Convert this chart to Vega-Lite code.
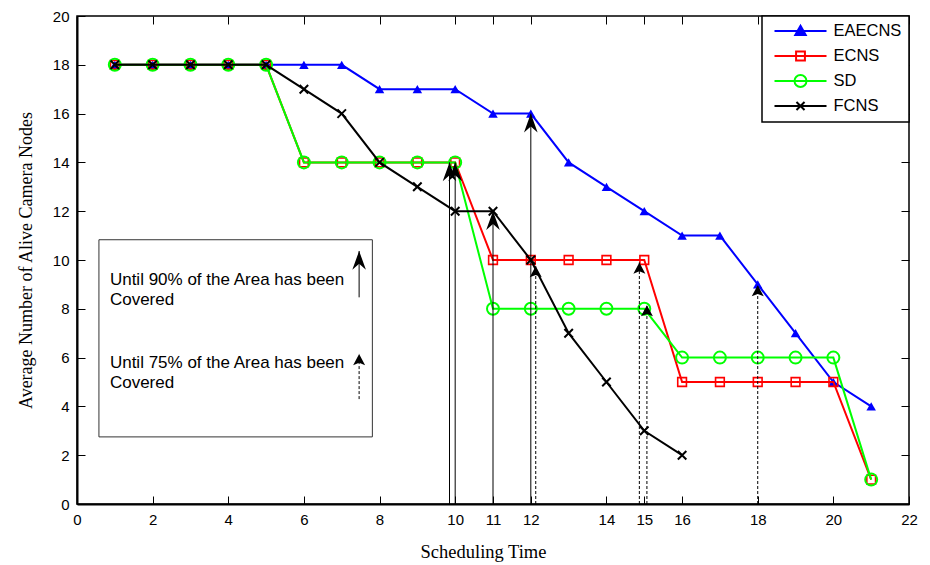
{
  "$schema": "https://vega.github.io/schema/vega-lite/v6.json",
  "width": 832,
  "height": 488,
  "autosize": {"type": "none"},
  "padding": {"left": 77, "top": 16, "right": 21, "bottom": 61},
  "background": "white",
  "config": {
    "view": {"stroke": "black", "strokeWidth": 1.5},
    "axis": {
      "grid": false,
      "labelFont": "Liberation Sans",
      "labelFontSize": 15,
      "labelColor": "black",
      "titleFont": "Liberation Serif",
      "titleFontSize": 18,
      "titleFontWeight": "normal",
      "titleColor": "black",
      "tickColor": "black",
      "tickWidth": 1,
      "domainColor": "black",
      "labelOverlap": false,
      "labelFlush": false,
      "labelBound": false
    },
    "legend": {
      "orient": "top-right",
      "offset": 0,
      "padding": 7,
      "strokeColor": "black",
      "strokeWidth": 1.5,
      "fillColor": "white",
      "labelFont": "Liberation Sans",
      "labelFontSize": 16.5,
      "labelColor": "black",
      "labelOffset": 6,
      "rowPadding": 8,
      "clipHeight": 16,
      "symbolSize": 2704,
      "symbolStrokeWidth": 2,
      "symbolOffset": 4.5,
      "symbolOpacity": 1
    }
  },
  "datasets": {
    "lines": [
      {"series": "EAECNS", "t": 1, "v": 18}, {"series": "EAECNS", "t": 2, "v": 18}, {"series": "EAECNS", "t": 3, "v": 18}, {"series": "EAECNS", "t": 4, "v": 18}, {"series": "EAECNS", "t": 5, "v": 18}, {"series": "EAECNS", "t": 6, "v": 18}, {"series": "EAECNS", "t": 7, "v": 18}, {"series": "EAECNS", "t": 8, "v": 17}, {"series": "EAECNS", "t": 9, "v": 17}, {"series": "EAECNS", "t": 10, "v": 17}, {"series": "EAECNS", "t": 11, "v": 16}, {"series": "EAECNS", "t": 12, "v": 16}, {"series": "EAECNS", "t": 13, "v": 14}, {"series": "EAECNS", "t": 14, "v": 13}, {"series": "EAECNS", "t": 15, "v": 12}, {"series": "EAECNS", "t": 16, "v": 11}, {"series": "EAECNS", "t": 17, "v": 11}, {"series": "EAECNS", "t": 18, "v": 9}, {"series": "EAECNS", "t": 19, "v": 7}, {"series": "EAECNS", "t": 20, "v": 5}, {"series": "EAECNS", "t": 21, "v": 4},
      {"series": "ECNS", "t": 1, "v": 18}, {"series": "ECNS", "t": 2, "v": 18}, {"series": "ECNS", "t": 3, "v": 18}, {"series": "ECNS", "t": 4, "v": 18}, {"series": "ECNS", "t": 5, "v": 18}, {"series": "ECNS", "t": 6, "v": 14}, {"series": "ECNS", "t": 7, "v": 14}, {"series": "ECNS", "t": 8, "v": 14}, {"series": "ECNS", "t": 9, "v": 14}, {"series": "ECNS", "t": 10, "v": 14}, {"series": "ECNS", "t": 11, "v": 10}, {"series": "ECNS", "t": 12, "v": 10}, {"series": "ECNS", "t": 13, "v": 10}, {"series": "ECNS", "t": 14, "v": 10}, {"series": "ECNS", "t": 15, "v": 10}, {"series": "ECNS", "t": 16, "v": 5}, {"series": "ECNS", "t": 17, "v": 5}, {"series": "ECNS", "t": 18, "v": 5}, {"series": "ECNS", "t": 19, "v": 5}, {"series": "ECNS", "t": 20, "v": 5}, {"series": "ECNS", "t": 21, "v": 1},
      {"series": "SD", "t": 1, "v": 18}, {"series": "SD", "t": 2, "v": 18}, {"series": "SD", "t": 3, "v": 18}, {"series": "SD", "t": 4, "v": 18}, {"series": "SD", "t": 5, "v": 18}, {"series": "SD", "t": 6, "v": 14}, {"series": "SD", "t": 7, "v": 14}, {"series": "SD", "t": 8, "v": 14}, {"series": "SD", "t": 9, "v": 14}, {"series": "SD", "t": 10, "v": 14}, {"series": "SD", "t": 11, "v": 8}, {"series": "SD", "t": 12, "v": 8}, {"series": "SD", "t": 13, "v": 8}, {"series": "SD", "t": 14, "v": 8}, {"series": "SD", "t": 15, "v": 8}, {"series": "SD", "t": 16, "v": 6}, {"series": "SD", "t": 17, "v": 6}, {"series": "SD", "t": 18, "v": 6}, {"series": "SD", "t": 19, "v": 6}, {"series": "SD", "t": 20, "v": 6}, {"series": "SD", "t": 21, "v": 1},
      {"series": "FCNS", "t": 1, "v": 18}, {"series": "FCNS", "t": 2, "v": 18}, {"series": "FCNS", "t": 3, "v": 18}, {"series": "FCNS", "t": 4, "v": 18}, {"series": "FCNS", "t": 5, "v": 18}, {"series": "FCNS", "t": 6, "v": 17}, {"series": "FCNS", "t": 7, "v": 16}, {"series": "FCNS", "t": 8, "v": 14}, {"series": "FCNS", "t": 9, "v": 13}, {"series": "FCNS", "t": 10, "v": 12}, {"series": "FCNS", "t": 11, "v": 12}, {"series": "FCNS", "t": 12, "v": 10}, {"series": "FCNS", "t": 13, "v": 7}, {"series": "FCNS", "t": 14, "v": 5}, {"series": "FCNS", "t": 15, "v": 3}, {"series": "FCNS", "t": 16, "v": 2}
    ],
    "arrows": [
      {"kind": "90%", "t": 9.85, "v": 0, "tip": 14},
      {"kind": "90%", "t": 10.0, "v": 0, "tip": 14},
      {"kind": "90%", "t": 11.0, "v": 0, "tip": 12},
      {"kind": "90%", "t": 12.0, "v": 0, "tip": 16},
      {"kind": "90%", "t": 7.46, "v": 8.47, "tip": 10.37},
      {"kind": "75%", "t": 12.13, "v": 0, "tip": 9.75},
      {"kind": "75%", "t": 14.87, "v": 0, "tip": 9.9},
      {"kind": "75%", "t": 15.07, "v": 0, "tip": 8.15},
      {"kind": "75%", "t": 18.0, "v": 0, "tip": 8.97},
      {"kind": "75%", "t": 7.46, "v": 4.3, "tip": 6.15}
    ],
    "notes": [
      {"label": "Until 90% of the Area has been", "t": 0.87, "v": 9.18},
      {"label": "Covered", "t": 0.87, "v": 8.36},
      {"label": "Until 75% of the Area has been", "t": 0.87, "v": 5.77},
      {"label": "Covered", "t": 0.87, "v": 4.95}
    ],
    "box": [{"t": 0.58, "t2": 7.81, "v": 2.75, "v2": 10.83}]
  },
  "resolve": {"axis": {"x": "independent", "y": "independent"}},
  "encoding": {
    "x": {"field": "t", "type": "quantitative", "scale": {"domain": [0, 22], "nice": false}, "axis": null},
    "y": {"field": "v", "type": "quantitative", "scale": {"domain": [0, 20], "nice": false}, "axis": null}
  },
  "layer": [
    {
      "data": {"name": "box"},
      "mark": {"type": "rect", "fill": "white", "stroke": "#333333", "strokeWidth": 1},
      "encoding": {
        "x": {"field": "t", "type": "quantitative", "scale": {"domain": [0, 22], "nice": false},
          "axis": {"orient": "bottom", "title": "Scheduling Time", "titleFontSize": 18.5, "titleX": 406, "values": [0, 2, 4, 6, 8, 10, 11, 12, 14, 15, 16, 18, 20, 22], "tickSize": -8, "labelPadding": 16, "domainWidth": 2, "titlePadding": 15}},
        "x2": {"field": "t2"},
        "y": {"field": "v", "type": "quantitative", "scale": {"domain": [0, 20], "nice": false},
          "axis": {"orient": "left", "title": "Average Number of Alive Camera Nodes", "values": [0, 2, 4, 6, 8, 10, 12, 14, 16, 18, 20], "tickSize": -8, "labelPadding": 16, "domainWidth": 2, "titlePadding": 17}},
        "y2": {"field": "v2"}
      }
    },
    {
      "data": {"name": "lines"},
      "transform": [{"filter": "datum.series === 'EAECNS'"}],
      "mark": {"type": "line", "color": "#0000ff", "strokeWidth": 2},
      "encoding": {
        "x": {"field": "t", "type": "quantitative", "scale": {"domain": [0, 22], "nice": false},
          "axis": {"orient": "top", "title": null, "labels": false, "domain": false, "values": [0, 2, 4, 6, 8, 10, 11, 12, 14, 15, 16, 18, 20, 22], "tickSize": -8}},
        "y": {"field": "v", "type": "quantitative", "scale": {"domain": [0, 20], "nice": false},
          "axis": {"orient": "right", "title": null, "labels": false, "domain": false, "values": [0, 2, 4, 6, 8, 10, 12, 14, 16, 18, 20], "tickSize": -8}}
      }
    },
    {
      "data": {"name": "lines"},
      "transform": [{"filter": "datum.series === 'EAECNS'"}],
      "mark": {"type": "point", "shape": "triangle-up", "size": 90, "filled": true, "color": "#0000ff", "opacity": 1}
    },
    {
      "data": {"name": "lines"},
      "transform": [{"filter": "datum.series === 'ECNS'"}],
      "mark": {"type": "line", "color": "#ff0000", "strokeWidth": 2}
    },
    {
      "data": {"name": "lines"},
      "transform": [{"filter": "datum.series === 'ECNS'"}],
      "mark": {"type": "point", "shape": "square", "size": 76, "filled": false, "color": "#ff0000", "strokeWidth": 1.6, "opacity": 1}
    },
    {
      "data": {"name": "lines"},
      "transform": [{"filter": "datum.series === 'SD'"}],
      "mark": {"type": "line", "color": "#00ff00", "strokeWidth": 2}
    },
    {
      "data": {"name": "lines"},
      "transform": [{"filter": "datum.series === 'SD'"}],
      "mark": {"type": "point", "shape": "circle", "size": 144, "filled": false, "color": "#00ff00", "strokeWidth": 2, "opacity": 1}
    },
    {
      "data": {"name": "lines"},
      "transform": [{"filter": "datum.series === 'FCNS'"}],
      "mark": {"type": "line", "color": "#000000", "strokeWidth": 2}
    },
    {
      "data": {"name": "lines"},
      "transform": [{"filter": "datum.series === 'FCNS'"}],
      "mark": {"type": "point", "shape": "M-1,-1L1,1M-1,1L1,-1", "size": 72, "filled": false, "color": "#000000", "strokeWidth": 2, "opacity": 1}
    },
    {
      "data": {"name": "arrows"},
      "transform": [{"filter": "datum.kind === '90%'"}],
      "mark": {"type": "rule", "color": "black", "strokeWidth": 1},
      "encoding": {
        "y2": {"field": "tip"}
      }
    },
    {
      "data": {"name": "arrows"},
      "transform": [{"filter": "datum.kind === '75%'"}],
      "mark": {"type": "rule", "color": "black", "strokeWidth": 1, "strokeDash": [3, 2]},
      "encoding": {
        "y2": {"field": "tip"}
      }
    },
    {
      "data": {"name": "arrows"},
      "transform": [{"filter": "datum.kind === '90%'"}],
      "mark": {"type": "point", "shape": "M0,0L1.7,4.7L0,3.2L-1.7,4.7Z", "size": 64, "filled": true, "color": "black", "opacity": 1, "strokeWidth": 0},
      "encoding": {
        "y": {"field": "tip", "type": "quantitative", "scale": {"domain": [0, 20], "nice": false}, "axis": null}
      }
    },
    {
      "data": {"name": "arrows"},
      "transform": [{"filter": "datum.kind === '75%'"}],
      "mark": {"type": "point", "shape": "M0,0L1.5,2.8L0,2.2L-1.5,2.8Z", "size": 64, "filled": true, "color": "black", "opacity": 1, "strokeWidth": 0},
      "encoding": {
        "y": {"field": "tip", "type": "quantitative", "scale": {"domain": [0, 20], "nice": false}, "axis": null}
      }
    },
    {
      "data": {"name": "notes"},
      "mark": {"type": "text", "align": "left", "baseline": "middle", "font": "Liberation Sans", "fontSize": 17, "color": "black"},
      "encoding": {
        "text": {"field": "label", "type": "nominal"}
      }
    },
    {
      "data": {"name": "lines"},
      "mark": {"type": "point", "opacity": 0, "size": 2704, "strokeWidth": 2},
      "encoding": {
        "stroke": {"field": "series", "type": "nominal",
          "scale": {"domain": ["EAECNS", "ECNS", "SD", "FCNS"], "range": ["#0000ff", "#ff0000", "#00ff00", "#000000"]},
          "legend": {"title": null, "symbolOpacity": 1}},
        "fill": {"field": "series", "type": "nominal",
          "scale": {"domain": ["EAECNS", "ECNS", "SD", "FCNS"], "range": ["#0000ff", "transparent", "transparent", "transparent"]},
          "legend": {"title": null, "symbolOpacity": 1}},
        "shape": {"field": "series", "type": "nominal",
          "scale": {"domain": ["EAECNS", "ECNS", "SD", "FCNS"], "range": [
            "M-1,0H1M0,-0.2L0.2,0.15L-0.2,0.15Z",
            "M-1,0H1M-0.17,-0.17H0.17V0.17H-0.17Z",
            "M-1,0H1M0.23,0A0.23,0.23,0,1,1,-0.23,0A0.23,0.23,0,1,1,0.23,0Z",
            "M-1,0H1M-0.155,-0.155L0.155,0.155M-0.155,0.155L0.155,-0.155"
          ]},
          "legend": {"title": null, "symbolOpacity": 1}}
      }
    }
  ]
}
